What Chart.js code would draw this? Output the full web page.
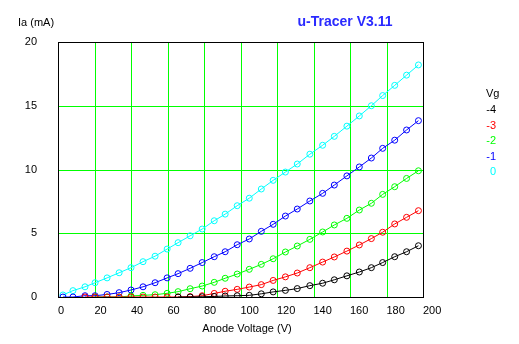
<!DOCTYPE html>
<html>
<head>
<meta charset="utf-8">
<script src="https://cdn.jsdelivr.net/npm/chart.js@4/dist/chart.umd.min.js"></script>
<style>
  html, body { margin: 0; padding: 0; background: #fff; }
  #wrap { width: 519px; height: 344px; position: relative; }
</style>
</head>
<body>
<div id="wrap"><canvas id="myChart"></canvas></div>
<script>
// anode voltage of each sweep step (V)
var voltages = [2.7, 8.2, 14.8, 20.3, 26.9, 33.5, 40.0, 46.6, 53.2, 59.8, 65.8,
                72.4, 79.0, 85.6, 91.6, 98.2, 104.8, 111.4, 117.9, 124.6, 131.1,
                138.0, 145.0, 151.4, 158.3, 165.1, 171.7, 177.9, 184.5, 191.0, 197.5];

// anode current (mA) per grid voltage, null = no sample
var ia_m4 = [null, null, null, null, null, null, null, null, null, null, 0,
             0, 0.02, 0.04, 0.08, 0.1, 0.13, 0.25, 0.4, 0.52, 0.66,
             0.89, 1.08, 1.35, 1.66, 1.96, 2.3, 2.7, 3.16, 3.55, 4.02];
var ia_m3 = [null, null, 0, 0, 0, 0, 0, 0, 0, 0, 0,
             0.03, 0.1, 0.28, 0.45, 0.6, 0.78, 0.97, 1.3, 1.58, 1.88,
             2.3, 2.74, 3.14, 3.6, 4.08, 4.58, 5.08, 5.73, 6.25, 6.77];
var ia_m2 = [null, null, null, 0, 0, 0, 0.08, 0.13, 0.18, 0.29, 0.42,
             0.65, 0.86, 1.15, 1.47, 1.8, 2.17, 2.56, 3.0, 3.53, 4.0,
             4.52, 5.1, 5.65, 6.17, 6.82, 7.35, 8.05, 8.65, 9.3, 9.9];
var ia_m1 = [0, 0, 0.1, 0.1, 0.2, 0.34, 0.55, 0.8, 1.12, 1.5, 1.83,
             2.25, 2.7, 3.16, 3.55, 4.1, 4.55, 5.15, 5.7, 6.35, 6.9,
             7.53, 8.13, 8.78, 9.5, 10.2, 10.9, 11.66, 12.3, 13.1, 13.83];
var ia_0 = [0.16, 0.5, 0.8, 1.12, 1.5, 1.9, 2.3, 2.77, 3.2, 3.76, 4.26,
            4.8, 5.33, 5.98, 6.5, 7.16, 7.75, 8.47, 9.15, 9.8, 10.43,
            11.2, 11.9, 12.6, 13.4, 14.2, 15.0, 15.8, 16.6, 17.4, 18.2];

var gridVolts = ["-4", "-3", "-2", "-1", "0"];
var colors = ["#000000", "#ff0000", "#00ff00", "#0000ff", "#00ffff"];
var series = [ia_m4, ia_m3, ia_m2, ia_m1, ia_0];

var FONT = "'Liberation Sans', Arial, sans-serif";

function points(ys) {
    var out = [];
    for (var i = 0; i < ys.length; i++) {
        if (ys[i] !== null) out.push({x: voltages[i], y: ys[i]});
    }
    return out;
}

var datasets = series.map(function (ys, i) {
    return {
        label: gridVolts[i],
        data: points(ys),
        borderColor: colors[i],
        backgroundColor: colors[i],
        borderWidth: 1,
        pointRadius: 3,
        pointHoverRadius: 3,
        pointBorderWidth: 1,
        pointBorderColor: colors[i],
        pointBackgroundColor: "rgba(0,0,0,0)",
        tension: 0
    };
});

// green grid at the scale ticks plus a black box, on whole pixels
var frame = {
    id: 'frame',
    beforeDatasetsDraw: function (chart) {
        var a = chart.chartArea, c = chart.ctx;
        var L = Math.round(a.left), R = Math.round(a.right);
        var T = Math.round(a.top), B = Math.round(a.bottom);
        c.save();
        c.lineWidth = 1;
        c.strokeStyle = '#00ff00';
        c.beginPath();
        chart.scales.x.ticks.forEach(function (t) {
            var px = Math.round(chart.scales.x.getPixelForValue(t.value)) + 0.5;
            c.moveTo(px, T);
            c.lineTo(px, B);
        });
        chart.scales.y.ticks.forEach(function (t) {
            var py = Math.round(chart.scales.y.getPixelForValue(t.value)) + 0.5;
            c.moveTo(L, py);
            c.lineTo(R, py);
        });
        c.stroke();
        c.strokeStyle = '#000';
        c.strokeRect(L + 0.5, T + 0.5, R - L, B - T);
        c.restore();
    }
};

// texts outside the plot: title, axis names, Vg key
var decor = {
    id: 'decor',
    afterDraw: function (chart) {
        var c = chart.ctx;
        c.save();
        c.textBaseline = 'middle';
        c.font = "bold 14px " + FONT;
        c.fillStyle = "#2a2aff";
        c.textAlign = 'center';
        c.fillText("u-Tracer V3.11", 345, 22);

        c.font = "11px " + FONT;
        c.fillStyle = "#000";
        c.textAlign = 'left';
        c.fillText("Ia (mA)", 18, 23);
        c.textAlign = 'center';
        c.fillText("Anode Voltage (V)", 247, 329);

        c.textAlign = 'left';
        c.fillText("Vg", 486, 94);
        c.textAlign = 'right';
        chart.data.datasets.forEach(function (ds, i) {
            c.fillStyle = ds.borderColor;
            c.fillText(ds.label, 496, 110 + i * 15.6);
        });
        c.restore();
    }
};

var ctx = document.getElementById('myChart').getContext('2d');
var myChart = new Chart(ctx, {
    type: 'line',
    data: { datasets: datasets },
    plugins: [frame, decor],
    options: {
        responsive: true,
        maintainAspectRatio: false,
        animation: false,
        layout: { padding: { top: 42, right: 96, left: 0, bottom: 0 } },
        plugins: {
            legend: { display: false },
            title: { display: false },
            tooltip: { enabled: false }
        },
        scales: {
            x: {
                type: 'linear',
                min: 0,
                max: 200,
                afterFit: function (s) { s.height = 47; },
                ticks: {
                    stepSize: 20,
                    align: 'start',
                    padding: 7,
                    color: '#000',
                    maxRotation: 0,
                    font: { family: FONT, size: 11 }
                },
                grid: { display: false, drawTicks: false },
                border: { display: false }
            },
            y: {
                min: 0,
                max: 20,
                afterFit: function (s) { s.width = 58; },
                ticks: {
                    stepSize: 5,
                    padding: 21,
                    color: '#000',
                    font: { family: FONT, size: 11 }
                },
                grid: { display: false, drawTicks: false },
                border: { display: false }
            }
        }
    }
});
</script>
</body>
</html>
